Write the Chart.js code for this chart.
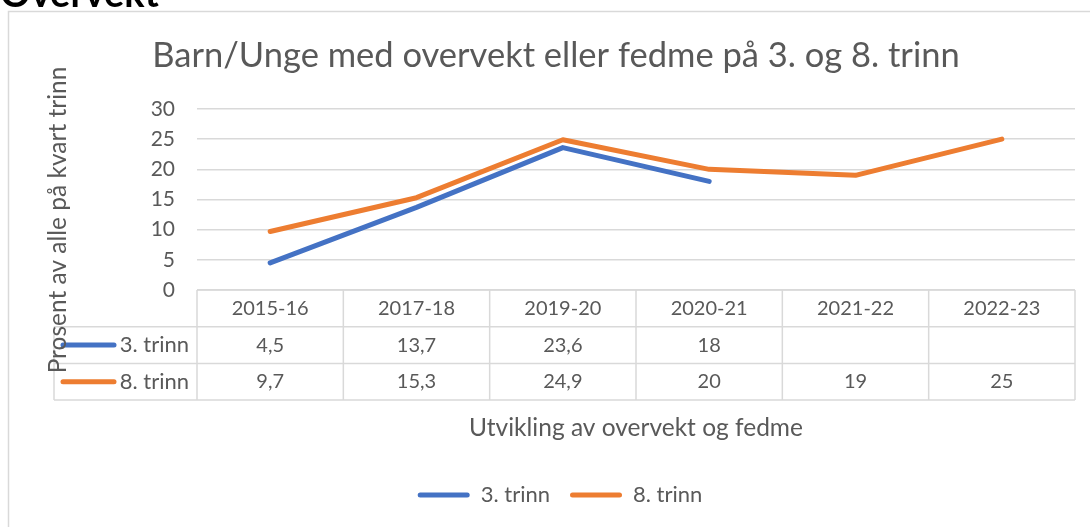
<!DOCTYPE html>
<html lang="no">
<head>
<meta charset="UTF-8">
<title>Overvekt</title>
<script src="https://cdn.jsdelivr.net/npm/chart.js"></script>
<style>
  body { margin: 0; background: #fff; }
  #wrap { width: 1090px; height: 527px; position: relative; }
</style>
</head>
<body>
<div id="wrap"><canvas id="chart"></canvas></div>
<script>
// data
const labels = ['2015-16', '2017-18', '2019-20', '2020-21', '2021-22', '2022-23'];
const trinn3 = [4.5, 13.7, 23.6, 18, null, null];
const trinn8 = [9.7, 15.3, 24.9, 20, 19, 25];
const seriesNames = ['3. trinn', '8. trinn'];
const seriesColors = ['#4472C4', '#ED7D31'];

const heading = 'Overvekt';
const chartTitle = 'Barn/Unge med overvekt eller fedme på 3. og 8. trinn';
const yTitle = 'Prosent av alle på kvart trinn';
const xTitle = 'Utvikling av overvekt og fedme';

const FONT = 'Lato, "Open Sans", sans-serif';
const GREY = '#595959';
const LINE = '#d9d9d9';

const fmt = v => (v === null || v === undefined) ? '' : String(v).replace('.', ',');

// draws frame, titles and the data table under the plot
const tablePlugin = {
  id: 'tablePlugin',
  beforeDraw(chart) {
    const ctx = chart.ctx;
    ctx.save();
    ctx.strokeStyle = LINE;
    ctx.lineWidth = 1.5;
    ctx.beginPath();
    ctx.moveTo(8.5, 527);
    ctx.lineTo(8.5, 11.5);
    ctx.lineTo(1090, 11.5);
    ctx.stroke();

    ctx.fillStyle = '#000';
    ctx.font = 'bold 38px ' + FONT;
    ctx.textBaseline = 'alphabetic';
    ctx.textAlign = 'left';
    ctx.fillText(heading, 0, 7);

    ctx.fillStyle = GREY;
    ctx.font = '34.5px ' + FONT;
    ctx.textAlign = 'center';
    ctx.textBaseline = 'middle';
    ctx.fillText(chartTitle, 556, 56);
    ctx.restore();
  },
  afterDraw(chart) {
    const ctx = chart.ctx;
    const xs = chart.scales.x;
    const area = chart.chartArea;
    const n = labels.length;
    const edges = [];
    for (let i = 0; i <= n; i++) {
      if (i === 0) edges.push(area.left);
      else if (i === n) edges.push(area.right);
      else edges.push((xs.getPixelForValue(i - 1) + xs.getPixelForValue(i)) / 2);
    }
    const top = area.bottom;
    const rowH = 36.7;
    const legLeft = 54;

    ctx.save();
    ctx.strokeStyle = LINE;
    ctx.lineWidth = 1.5;
    ctx.beginPath();
    ctx.moveTo(area.left, top); ctx.lineTo(area.right, top);
    for (let r = 1; r <= 3; r++) {
      ctx.moveTo(legLeft, top + r * rowH); ctx.lineTo(area.right, top + r * rowH);
    }
    edges.forEach(e => { ctx.moveTo(e, top); ctx.lineTo(e, top + 3 * rowH); });
    ctx.moveTo(legLeft, top + rowH); ctx.lineTo(legLeft, top + 3 * rowH);
    ctx.stroke();

    ctx.fillStyle = GREY;
    ctx.textAlign = 'center';
    ctx.textBaseline = 'middle';
    ctx.font = '20px ' + FONT;
    labels.forEach((l, i) => ctx.fillText(l, xs.getPixelForValue(i), top + rowH / 2));
    [trinn3, trinn8].forEach((arr, r) => {
      const cy = top + rowH * (r + 1.5);
      ctx.font = '20px ' + FONT;
      ctx.textAlign = 'center';
      arr.forEach((v, i) => ctx.fillText(fmt(v), xs.getPixelForValue(i), cy));
      ctx.font = '22px ' + FONT;
      ctx.textAlign = 'right';
      ctx.fillText(seriesNames[r], 189, cy);
      ctx.strokeStyle = seriesColors[r];
      ctx.lineWidth = 5;
      ctx.lineCap = 'round';
      ctx.beginPath();
      ctx.moveTo(63, cy); ctx.lineTo(114, cy);
      ctx.stroke();
    });

    ctx.textAlign = 'center';
    ctx.font = '24.5px ' + FONT;
    ctx.fillText(xTitle, 636, 428);

    ctx.translate(58, 220);
    ctx.rotate(-Math.PI / 2);
    ctx.fillText(yTitle, 0, 0);
    ctx.restore();
  }
};

new Chart(document.getElementById('chart'), {
  type: 'line',
  data: {
    labels: labels,
    datasets: [
      { label: seriesNames[0], data: trinn3, borderColor: seriesColors[0], backgroundColor: seriesColors[0],
        borderWidth: 5, pointRadius: 0, borderCapStyle: 'round', borderJoinStyle: 'round', spanGaps: false },
      { label: seriesNames[1], data: trinn8, borderColor: seriesColors[1], backgroundColor: seriesColors[1],
        borderWidth: 5, pointRadius: 0, borderCapStyle: 'round', borderJoinStyle: 'round', spanGaps: false }
    ]
  },
  options: {
    responsive: true,
    maintainAspectRatio: false,
    animation: false,
    layout: { padding: { top: 109, right: 15, bottom: 11, left: 45 } },
    scales: {
      x: {
        offset: true,
        grid: { display: false },
        border: { display: false },
        ticks: { display: false },
        afterFit: s => { s.height = 174; }
      },
      y: {
        min: 0, max: 30,
        ticks: { stepSize: 5, color: GREY, font: { family: FONT, size: 21 }, padding: 22 },
        grid: { color: LINE, lineWidth: 1.5, drawTicks: false },
        border: { display: false },
        afterFit: s => { s.width = 152; }
      }
    },
    plugins: {
      title: { display: false },
      tooltip: { enabled: false },
      legend: {
        position: 'bottom',
        labels: {
          boxWidth: 52, boxHeight: 5, padding: 20, useBorderRadius: true,
          color: GREY, font: { family: FONT, size: 22 },
          generateLabels: chart => chart.data.datasets.map((d, i) => ({
            text: d.label, fillStyle: d.borderColor, strokeStyle: d.borderColor,
            lineWidth: 0, borderRadius: 2.5, datasetIndex: i, fontColor: GREY
          }))
        }
      }
    }
  },
  plugins: [tablePlugin]
});
</script>
</body>
</html>
